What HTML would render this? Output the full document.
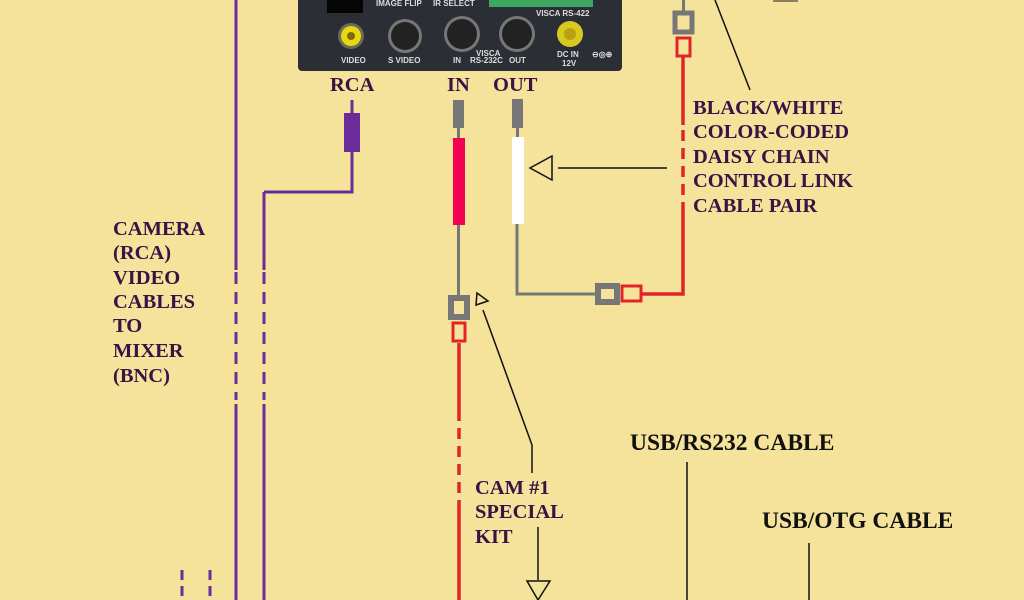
<!DOCTYPE html>
<html><head><meta charset="utf-8"><style>
html,body{margin:0;padding:0;width:1024px;height:600px;overflow:hidden;background:#f6e39b}
svg{display:block}
.t{font-family:"Liberation Serif",serif;font-weight:bold;fill:#3a1245;font-size:20.5px}
.k{font-family:"Liberation Serif",serif;font-weight:bold;fill:#111;font-size:23.5px}
.s{font-family:"Liberation Sans",sans-serif;font-weight:bold;fill:#ddd;font-size:8px}
</style></head><body>
<svg width="1024" height="600" viewBox="0 0 1024 600" xmlns="http://www.w3.org/2000/svg">
<rect width="1024" height="600" fill="#f6e39b"/>
<rect x="298" y="-6" width="324" height="77" rx="4" fill="#2b2e34"/>
<rect x="327" y="0" width="36" height="13" fill="#050505"/>
<rect x="489" y="0" width="104" height="7" fill="#3fa860"/>
<text class="s" x="376" y="6">IMAGE FLIP</text>
<text class="s" x="433" y="6">IR SELECT</text>
<text class="s" x="536" y="16">VISCA RS-422</text>
<circle cx="351" cy="36" r="13" fill="#6b6b5a"/><circle cx="351" cy="36" r="10" fill="#e8d810"/><circle cx="351" cy="36" r="4" fill="#7a6a10"/>
<circle cx="405" cy="36" r="17" fill="#777"/><circle cx="405" cy="36" r="14" fill="#222"/>
<circle cx="462" cy="34" r="18" fill="#777"/><circle cx="462" cy="34" r="15" fill="#222"/>
<circle cx="517" cy="34" r="18" fill="#777"/><circle cx="517" cy="34" r="15" fill="#222"/>
<circle cx="570" cy="34" r="13" fill="#d8c820"/><circle cx="570" cy="34" r="6" fill="#b8a010"/>
<text class="s" x="341" y="63">VIDEO</text>
<text class="s" x="388" y="63">S VIDEO</text>
<text class="s" x="453" y="63">IN</text>
<text class="s" x="476" y="56">VISCA</text>
<text class="s" x="470" y="63">RS-232C</text>
<text class="s" x="509" y="63">OUT</text>
<text class="s" x="557" y="57">DC IN</text>
<text class="s" x="562" y="66">12V</text>
<text class="s" x="592" y="57">⊖◎⊕</text>
<text class="t" x="330" y="91">RCA</text>
<text class="t" x="447" y="91">IN</text>
<text class="t" x="493" y="91">OUT</text>
<g stroke="#6a2c9a" stroke-width="3" fill="none">
<path d="M236 0V270M236 404V600"/>
<path d="M236 272V400" stroke-dasharray="12,8"/>
<path d="M264 192V270M264 404V600M264 192H352V152M352 100V113"/>
<path d="M264 272V400" stroke-dasharray="12,8"/>
<path d="M182 570V600M210 570V600" stroke-dasharray="10,6"/>
</g>
<rect x="344" y="113" width="16" height="39" fill="#6a2c9a"/>
<rect x="453" y="100" width="11" height="28" fill="#777"/>
<rect x="457" y="128" width="3" height="12" fill="#777"/>
<rect x="453" y="138" width="12" height="87" fill="#f0044f"/>
<rect x="457" y="225" width="3" height="72" fill="#777"/>
<rect x="451" y="298" width="16" height="19" fill="none" stroke="#777" stroke-width="6"/>
<rect x="453" y="323" width="12" height="18" fill="none" stroke="#e0242a" stroke-width="3"/>
<g stroke="#e0242a" stroke-width="3.5" fill="none">
<path d="M459 343V410M459 503V600"/>
<path d="M459 410V503" stroke-dasharray="11,7"/>
</g>
<rect x="512" y="99" width="11" height="29" fill="#777"/>
<rect x="516" y="128" width="3" height="10" fill="#777"/>
<rect x="512" y="137" width="12" height="87" fill="#fff"/>
<path d="M517 224V294H597" stroke="#777" stroke-width="3" fill="none"/>
<rect x="598" y="286" width="19" height="16" fill="none" stroke="#777" stroke-width="6"/>
<rect x="622" y="286" width="19" height="15" fill="none" stroke="#e0242a" stroke-width="3"/>
<g stroke="#e0242a" stroke-width="3.5" fill="none">
<path d="M642 294H683V213M683 125V57"/>
<path d="M683 213V125" stroke-dasharray="11,7"/>
</g>
<rect x="677" y="38" width="13" height="18" fill="none" stroke="#e0242a" stroke-width="3"/>
<rect x="675" y="13" width="17" height="19" fill="none" stroke="#777" stroke-width="5"/>
<rect x="682" y="0" width="3" height="11" fill="#777"/>
<rect x="773" y="0" width="25" height="2" fill="#8a8060"/>
<g stroke="#111" stroke-width="1.5" fill="none">
<path d="M715 0L750 90"/>
<path d="M558 168H667"/>
<path d="M552 156L530 168L552 180Z"/>
<path d="M477 293L488 301L476 305Z"/>
<path d="M483 310L532 445V473"/>
<path d="M538 527V580"/>
<path d="M527 581H550L538 600Z"/>
<path d="M687 462V600M809 543V600"/>
</g>
<text class="t"><tspan x="693" y="114">BLACK/WHITE</tspan><tspan x="693" y="138">COLOR-CODED</tspan><tspan x="693" y="163">DAISY CHAIN</tspan><tspan x="693" y="187">CONTROL LINK</tspan><tspan x="693" y="212">CABLE PAIR</tspan></text>
<text class="t"><tspan x="113" y="235">CAMERA</tspan><tspan x="113" y="259">(RCA)</tspan><tspan x="113" y="284">VIDEO</tspan><tspan x="113" y="308">CABLES</tspan><tspan x="113" y="332">TO</tspan><tspan x="113" y="357">MIXER</tspan><tspan x="113" y="382">(BNC)</tspan></text>
<text class="t"><tspan x="475" y="494">CAM #1</tspan><tspan x="475" y="518">SPECIAL</tspan><tspan x="475" y="543">KIT</tspan></text>
<text class="k" x="630" y="450">USB/RS232 CABLE</text>
<text class="k" x="762" y="528">USB/OTG CABLE</text>
</svg>
</body></html>
